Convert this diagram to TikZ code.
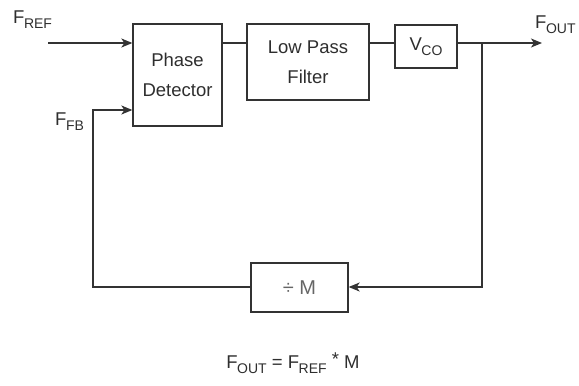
\documentclass[tikz,border=0pt]{standalone}
\usepackage{fontspec}
\setmainfont{Liberation Sans}
\usetikzlibrary{arrows.meta}
\newcommand{\Fsb}[1]{F\kern-0.5pt\raisebox{-5pt}{\fontsize{14}{14}\selectfont #1}}
\begin{document}
\begin{tikzpicture}[x=1pt,y=-1pt,
  every node/.style={text=black!82, font=\fontsize{18.5}{30}\selectfont, inner sep=0pt},
  blk/.style={draw=black!80, line width=1.3pt, align=center},
  wire/.style={draw=black!80, line width=1.3pt},
  arr/.style={wire, -{Stealth[length=11pt,width=9pt,inset=3pt]}},
  lbl/.style={anchor=base west, font=\fontsize{18.5}{20}\selectfont}]
\useasboundingbox (0,0) rectangle (579,386);
% blocks
\node[blk, minimum width=89pt, minimum height=102pt] (pd) at (177.5,75) {Phase\\Detector};
\node[blk, minimum width=122pt, minimum height=76pt] (lpf) at (308,62) {Low Pass\\Filter};
\node[blk, minimum width=62pt, minimum height=43pt] (vco) at (426,46.5) {V\kern-0.5pt\raisebox{-5pt}{\fontsize{14}{14}\selectfont CO}};
\node[blk, minimum width=97pt, minimum height=49pt, text=black!60, font=\fontsize{20}{20}\selectfont] (divm) at (299.5,287.5) {÷ M};
% coordinates
\coordinate (y43) at (0,43);
\coordinate (in) at (48,43);
\coordinate (fbc) at (93,110);
\coordinate (blc) at (93,287);
\coordinate (br) at (482,43);
\coordinate (out) at (542,43);
% connectors
\draw[arr] (in) -- (pd.west |- in);
\draw[wire] (pd.east |- y43) -- (lpf.west |- y43);
\draw[wire] (lpf.east |- y43) -- (vco.west |- y43);
\draw[arr] (vco.east |- y43) -- (out);
\draw[arr] (br) -- (br |- blc) -- (divm.east |- blc);
\draw[arr] (divm.west |- blc) -- (blc) -- (fbc) -- (pd.west |- fbc);
% labels
\node[lbl] (fref) at (13,23) {\Fsb{REF}};
\node[lbl] (ffb) at (55,125) {\Fsb{FB}};
\node[lbl] (fout) at (535,28) {\Fsb{OUT}};
\node[lbl, anchor=base] (eq) at (293,368) {\Fsb{OUT} = \Fsb{REF} \raisebox{3pt}{*} M};
\end{tikzpicture}
\end{document}
